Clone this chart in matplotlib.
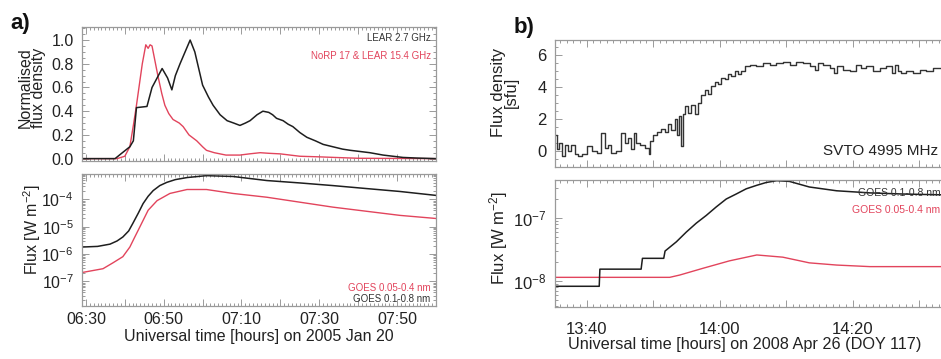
import matplotlib
matplotlib.use("Agg")
import matplotlib.pyplot as plt
from matplotlib.ticker import MultipleLocator, FuncFormatter, LogLocator, LogFormatterMathtext, NullFormatter

plt.rcParams['font.family'] = ['Liberation Sans', 'DejaVu Sans']
plt.rcParams['mathtext.fontset'] = 'custom'
plt.rcParams['mathtext.rm'] = 'Liberation Sans'
plt.rcParams['mathtext.it'] = 'Liberation Sans:italic'
plt.rcParams['mathtext.bf'] = 'Liberation Sans:bold'

# ---------------- Panel a data (minutes after 06:00 UT) ----------------
lear27_t = [29, 37.5, 39, 41.3, 42.2, 43, 45.7, 47, 49.6, 51, 52.1, 53, 54.2, 55.5, 56.8, 58, 60,
            61.5, 62.7, 64.5, 66.3, 68, 69.6, 71, 72.2, 74, 75.5, 77, 78, 79, 80.7, 82, 83.2, 85,
            86.8, 89, 91, 93.5, 96, 98, 100.5, 103, 106.4, 111.5, 115, 120]
lear27 = [0, 0, 0.04, 0.1, 0.15, 0.43, 0.44, 0.6, 0.76, 0.68, 0.58, 0.7, 0.8, 0.9, 1.0, 0.9, 0.62,
          0.52, 0.45, 0.37, 0.32, 0.3, 0.28, 0.3, 0.32, 0.37, 0.40, 0.39, 0.37, 0.34, 0.32, 0.29,
          0.27, 0.22, 0.18, 0.15, 0.12, 0.1, 0.08, 0.07, 0.06, 0.05, 0.03, 0.01, 0.005, 0]

norp_t = [29, 38, 40, 41.3, 42.3, 43, 44.5, 45.4, 46.0, 46.5, 47, 48.5, 49.5, 50.3, 51.3, 52.4, 54,
          55, 56.5, 58.5, 60, 61, 63, 66, 69.6, 72, 74.8, 77, 80, 85, 90, 94, 100, 120]
norp = [0, 0, 0.02, 0.1, 0.3, 0.45, 0.8, 0.96, 0.93, 0.96, 0.95, 0.7, 0.55, 0.45, 0.38, 0.33, 0.3,
        0.27, 0.2, 0.15, 0.1, 0.07, 0.05, 0.03, 0.03, 0.04, 0.05, 0.045, 0.04, 0.02, 0.015, 0.01,
        0.003, 0]

goes_a_long_t = [29, 33, 36.2, 38, 39.5, 41, 42.1, 43.5, 44.7, 46, 47.3, 49, 50.8, 53, 56, 61,
                 67.8, 76.5, 85, 93.5, 102, 110.7, 120]
goes_a_long = [1.8e-6, 1.9e-6, 2.3e-6, 3e-6, 4.2e-6, 7e-6, 1.35e-5, 3.2e-5, 7e-5, 1.3e-4, 2.1e-4,
               3.2e-4, 4.2e-4, 5.3e-4, 6.3e-4, 7.4e-4, 6.9e-4, 4.9e-4, 4.0e-4, 3.2e-4, 2.5e-4,
               1.95e-4, 1.4e-4]
goes_a_short_t = [29, 34.4, 37, 39.5, 41.3, 42.5, 43.9, 46, 48.3, 51.6, 56, 61, 67.8, 76.5, 93.5,
                  110.7, 120]
goes_a_short = [2.1e-7, 2.9e-7, 4.8e-7, 8e-7, 1.8e-6, 4e-6, 1e-5, 4e-5, 9e-5, 1.65e-4, 2.3e-4,
                2.3e-4, 1.65e-4, 1.2e-4, 5.2e-5, 2.6e-5, 2e-5]

# ---------------- Panel b data (minutes after 13:00 UT) ----------------
svto_t = [35.34, 35.69, 36.04, 36.44, 36.95, 37.45, 37.95, 38.45, 38.95, 39.70, 40.45, 41.21,
          41.96, 42.46, 42.96, 43.46, 43.96, 44.97, 45.47, 45.97, 46.47, 46.97, 47.22, 47.72,
          48.47, 49.23, 49.48, 49.73, 50.23, 50.98, 51.48, 51.98, 52.48, 52.99, 53.49, 53.74,
          54.09, 54.34, 54.59, 54.99, 55.49, 55.99, 56.50, 57.00, 57.50, 58.00, 58.50, 59.00,
          59.50, 60.00, 60.50, 61.01, 61.51, 62.01, 62.51, 63.01, 63.51, 64.01, 65.02, 66.02,
          67.02, 68.02, 69.03, 70.03, 71.03, 72.03, 73.04, 74.04, 74.54, 75.04, 76.04, 77.05,
          77.30, 78.05, 79.05, 80.05, 81.06, 81.56, 82.56, 83.56, 84.56, 85.57, 86.32, 86.57,
          87.07, 87.57, 88.57, 89.58, 90.58, 91.58, 92.58, 93.24, 94.5, 96.0]
svto = [1.0, 0.1, 0.5, -0.3, 0.4, 0.0, 0.4, -0.2, -0.3, -0.2, 0.3, 0.0, -0.1, 1.1, 0.2, 0.4,
        -0.1, 0.0, 1.1, 0.5, 0.8, 0.1, 1.1, 0.5, 0.4, 0.2, -0.2, 0.6, 1.0, 1.2, 1.4, 1.2, 1.7,
        1.3, 2.0, 1.0, 2.2, 0.3, 2.3, 2.8, 2.4, 2.9, 2.3, 3.0, 3.5, 3.8, 3.6, 4.1, 4.3, 4.2, 4.6,
        4.5, 4.8, 4.7, 5.0, 4.8, 5.0, 5.3, 5.4, 5.3, 5.5, 5.4, 5.5, 5.6, 5.4, 5.6, 5.5, 5.3, 5.1,
        5.5, 5.4, 5.2, 4.9, 5.3, 5.1, 5.0, 5.4, 5.2, 5.3, 5.0, 5.2, 5.3, 4.9, 5.4, 5.0, 4.9, 5.0,
        4.9, 5.1, 5.0, 5.2, 5.2, 5.1, 5.0]

goes_b_long_t = [35.2, 41.9, 42.0, 48.2, 48.4, 51.6, 51.8, 53.5, 55, 56.5, 58, 59.5, 61, 62.5, 64,
                 65.6, 67, 68.6, 70.5, 73.5, 77.6, 82.6, 87.5, 96]
goes_b_long = [8.3e-9, 8.3e-9, 1.55e-8, 1.55e-8, 2.3e-8, 2.3e-8, 3.0e-8, 4.2e-8, 6e-8, 8.3e-8,
               1.1e-7, 1.5e-7, 2.0e-7, 2.4e-7, 2.9e-7, 3.3e-7, 3.65e-7, 3.9e-7, 3.8e-7, 3.1e-7,
               2.7e-7, 2.5e-7, 2.4e-7, 2.3e-7]
goes_b_short_t = [35.2, 52.5, 54, 57.5, 61.5, 65.6, 69.5, 73.5, 77.6, 82.6, 96]
goes_b_short = [1.15e-8, 1.15e-8, 1.25e-8, 1.6e-8, 2.1e-8, 2.6e-8, 2.4e-8, 1.95e-8, 1.8e-8,
                1.7e-8, 1.7e-8]

RED = '#e2445c'
BLK = '#1e1e1e'
SPINE = '#9a9a9a'
TXT = '#222222'

W, H = 941, 359
fig = plt.figure(figsize=(W / 100, H / 100), dpi=100)


def box(l, t, r, b):
    return [l / W, 1 - b / H, (r - l) / W, (b - t) / H]


def style(ax, fs):
    for s in ax.spines.values():
        s.set_color(SPINE)
        s.set_linewidth(0.9)
    ax.tick_params(which='both', direction='in', top=True, right=True, color=SPINE,
                   labelcolor=TXT, labelsize=fs, width=0.7)
    ax.tick_params(which='major', length=5, pad=6)
    ax.tick_params(which='minor', length=2.5)


def hhmm(base_h, rem, vmax):
    def f(v, pos):
        m = int(round(v))
        if m % 20 != rem or m > vmax:
            return ''
        return f"{base_h + m // 60:02d}:{m % 60:02d}"
    return f


# ---------- panel a top ----------
ax1 = fig.add_axes(box(82, 27, 436, 161))
ax1.plot(norp_t, norp, color=RED, lw=1.0)
ax1.plot(lear27_t, lear27, color=BLK, lw=1.1)
ax1.set_xlim(29, 120)
ax1.set_ylim(-0.02, 1.11)
ax1.xaxis.set_major_locator(MultipleLocator(10))
ax1.xaxis.set_minor_locator(MultipleLocator(1))
ax1.xaxis.set_major_formatter(NullFormatter())
ax1.yaxis.set_major_locator(MultipleLocator(0.2))
ax1.yaxis.set_minor_locator(MultipleLocator(0.05))
ax1.yaxis.set_major_formatter(FuncFormatter(lambda v, p: f"{v:.1f}"))
style(ax1, 11.5)
ax1.text(0.985, 0.92, 'LEAR 2.7 GHz', transform=ax1.transAxes, ha='right', va='center',
         fontsize=7, color='#333333')
ax1.text(0.985, 0.78, 'NoRP 17 & LEAR 15.4 GHz', transform=ax1.transAxes, ha='right',
         va='center', fontsize=7, color=RED)

# ---------- panel a bottom ----------
ax2 = fig.add_axes(box(82, 174, 436, 306))
ax2.plot(goes_a_short_t, goes_a_short, color=RED, lw=1.0)
ax2.plot(goes_a_long_t, goes_a_long, color=BLK, lw=1.1)
ax2.set_yscale('log')
ax2.set_xlim(29, 120)
ax2.set_ylim(1.25e-8, 8.5e-4)
ax2.xaxis.set_major_locator(MultipleLocator(10))
ax2.xaxis.set_minor_locator(MultipleLocator(1))
ax2.xaxis.set_major_formatter(FuncFormatter(hhmm(6, 10, 120)))
ax2.yaxis.set_major_locator(LogLocator(base=10, numticks=20))
ax2.yaxis.set_minor_locator(LogLocator(base=10, subs=range(2, 10), numticks=20))
ax2.yaxis.set_major_formatter(LogFormatterMathtext())
ax2.yaxis.set_minor_formatter(NullFormatter())
style(ax2, 11.5)
ax2.tick_params(axis='x', which='major', pad=4)
ax2.text(0.985, 0.135, 'GOES 0.05-0.4 nm', transform=ax2.transAxes, ha='right', va='center',
         fontsize=7, color=RED)
ax2.text(0.985, 0.05, 'GOES 0.1-0.8 nm', transform=ax2.transAxes, ha='right', va='center',
         fontsize=7, color='#333333')
fig.text(259 / W, 1 - 336 / H, 'Universal time [hours] on 2005 Jan 20', ha='center',
         va='center', fontsize=11.5, color=TXT)

# ---------- panel b top ----------
bl, br = 555, 1010
x0b = 35.25
x1b = x0b + (br - bl) / 6.65
ax3 = fig.add_axes(box(bl, 40, br, 167))
ax3.plot(svto_t, svto, color='#333333', lw=1.0, drawstyle='steps-mid')
ax3.set_xlim(x0b, x1b)
ax3.set_ylim(-1, 6.95)
ax3.xaxis.set_major_locator(MultipleLocator(10))
ax3.xaxis.set_minor_locator(MultipleLocator(1))
ax3.xaxis.set_major_formatter(NullFormatter())
ax3.yaxis.set_major_locator(MultipleLocator(2))
ax3.yaxis.set_minor_locator(MultipleLocator(0.5))
style(ax3, 12)
fig.text(823 / W, 1 - 151 / H, 'SVTO 4995 MHz', ha='left', va='center', fontsize=11, color=TXT)

# ---------- panel b bottom ----------
ax4 = fig.add_axes(box(bl, 180, br, 307))
ax4.plot(goes_b_short_t, goes_b_short, color=RED, lw=1.0)
ax4.plot(goes_b_long_t, goes_b_long, color=BLK, lw=1.1)
ax4.set_yscale('log')
ax4.set_xlim(x0b, x1b)
ax4.set_ylim(3.9e-9, 4.0e-7)
ax4.xaxis.set_major_locator(MultipleLocator(10))
ax4.xaxis.set_minor_locator(MultipleLocator(1))
ax4.xaxis.set_major_formatter(FuncFormatter(hhmm(13, 0, 90)))
ax4.yaxis.set_major_locator(LogLocator(base=10, numticks=20))
ax4.yaxis.set_minor_locator(LogLocator(base=10, subs=range(2, 10), numticks=20))
ax4.yaxis.set_major_formatter(LogFormatterMathtext())
ax4.yaxis.set_minor_formatter(NullFormatter())
style(ax4, 12)
ax4.tick_params(axis='x', which='major', pad=11)
fig.text(745 / W, 1 - 344 / H, 'Universal time [hours] on 2008 Apr 26 (DOY 117)', ha='center',
         va='center', fontsize=11.7, color=TXT)
fig.text(858 / W, 1 - 193 / H, 'GOES 0.1-0.8 nm', ha='left', va='center', fontsize=7.5,
         color='#333333')
fig.text(852 / W, 1 - 210 / H, 'GOES 0.05-0.4 nm', ha='left', va='center', fontsize=7.5,
         color=RED)

# ---------- y labels and panel letters ----------
fig.text(32 / W, 1 - 88 / H, 'Normalised\nflux density', rotation=90, ha='center', va='center',
         fontsize=11.5, color=TXT, linespacing=0.85)
fig.text(32 / W, 1 - 230 / H, 'Flux [W m$^{-2}$]', rotation=90, ha='center', va='center',
         fontsize=11.5, color=TXT)
fig.text(505 / W, 1 - 92 / H, 'Flux density\n[sfu]', rotation=90, ha='center', va='center',
         fontsize=12, color=TXT, linespacing=0.85)
fig.text(499 / W, 1 - 238 / H, 'Flux [W m$^{-2}$]', rotation=90, ha='center', va='center',
         fontsize=12, color=TXT)
fig.text(10 / W, 1 - 24 / H, 'a)', ha='left', va='center', fontsize=16, fontweight='bold',
         color='#111111')
fig.text(514 / W, 1 - 27 / H, 'b)', ha='left', va='center', fontsize=16, fontweight='bold',
         color='#111111')

fig.savefig('out.png', dpi=100)
